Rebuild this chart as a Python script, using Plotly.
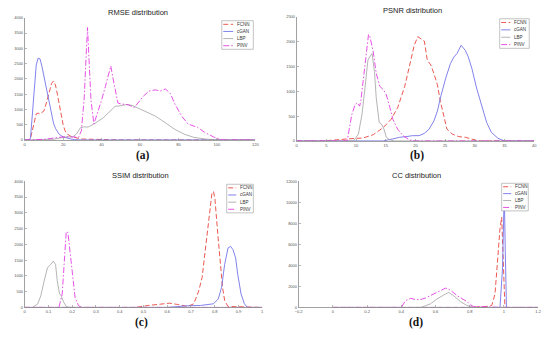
import plotly.graph_objects as go

W, H = 550, 338

# ---------------- data ----------------
methods = ["FCNN", "cGAN", "LBP", "PINV"]

# RMSE
rmse_fcnn_x = [0, 2, 3, 4, 5, 6, 7, 8, 9, 10, 11, 12, 13, 14, 15, 16, 17, 18, 19, 20, 21, 22, 24, 26, 28, 30, 35, 40, 50, 120]
rmse_fcnn_y = [0, 0, 50, 300, 600, 850, 880, 850, 900, 950, 1150, 1400, 1650, 1850, 1930, 1800, 1500, 1150, 800, 500, 300, 200, 120, 80, 50, 30, 20, 10, 0, 0]
rmse_cgan_x = [0, 2, 3, 4, 5, 6, 7, 8, 9, 10, 11, 12, 13, 14, 15, 16, 17, 18, 20, 22, 24, 26, 30, 120]
rmse_cgan_y = [0, 0, 50, 800, 1800, 2450, 2680, 2650, 2400, 2100, 1800, 1450, 1100, 800, 550, 380, 260, 180, 100, 60, 30, 10, 0, 0]
rmse_lbp_x = [0, 10, 15, 18, 20, 22, 25, 27, 29, 31, 33, 36, 41, 44, 47, 50, 53, 56, 58, 63, 68, 73, 78, 83, 88, 94, 100, 120]
rmse_lbp_y = [0, 0, 20, 60, 90, 100, 100, 200, 400, 430, 420, 520, 730, 900, 1100, 1120, 1160, 1130, 1070, 940, 780, 570, 350, 190, 85, 30, 0, 0]
rmse_pinv_x = [0, 5, 10, 15, 20, 25, 28, 29.5, 31, 32, 32.7, 33.5, 34.5, 36, 38, 40, 42, 44, 44.8, 46, 47.5, 48.5, 50, 52, 54, 57,
               59.6, 62, 64.7, 68, 70.6, 73.2, 75.7, 78.3, 81.7, 85, 90, 93.6, 98.7, 103, 120]
rmse_pinv_y = [0, 0, 20, 60, 100, 100, 80, 300, 1400, 2800, 3680, 2600, 1300, 520, 900, 1300, 1750, 2250, 2420, 2000, 1500, 1210, 1180, 1160, 1150, 1060,
               1270, 1450, 1600, 1640, 1600, 1670, 1530, 1160, 780, 520, 410, 250, 85, 0, 0]

# PSNR
psnr_fcnn_x = [0, 4.5, 8.5, 11.2, 12.9, 14.6, 15.9, 17, 18.2, 19, 19.8, 20.4, 20.9, 21.5, 22, 22.6, 23.1, 23.7, 24.2, 24.8, 25.3, 26.2, 27.3, 28.4, 29.5, 30.6, 40]
psnr_fcnn_y = [0, 0, 40, 60, 126, 271, 436, 668, 1098, 1528, 1925, 2100, 2057, 2010, 1627, 1528, 1362, 1131, 800, 470, 238, 139, 86, 73, 40, 0, 0]
psnr_cgan_x = [0, 14.6, 16.2, 17.3, 18.4, 19.5, 20.6, 21.5, 22.3, 23.1, 23.7, 24.2, 25.1, 25.9, 26.5, 27, 27.7, 28.4, 28.9, 29.5, 30.3, 31.2, 32, 32.8, 33.9, 35, 40]
psnr_cgan_y = [0, 0, 40, 73, 86, 106, 106, 152, 238, 400, 600, 866, 1263, 1560, 1693, 1760, 1925, 1825, 1693, 1462, 1065, 668, 370, 172, 53, 0, 0]
psnr_lbp_x = [0, 9.6, 10.4, 11, 11.5, 12, 12.3, 12.7, 13.1, 13.4, 13.9, 14.3, 14.7, 15.1, 15.7, 16.5, 40]
psnr_lbp_y = [0, 0, 140, 536, 1065, 1627, 1693, 1760, 1395, 866, 370, 337, 238, 73, 20, 0, 0]
psnr_pinv_x = [0, 8.5, 9.3, 9.85, 10.2, 10.6, 10.8, 11.5, 12.1, 12.3, 12.9, 13.4, 14, 14.6, 15.1, 15.7, 16.2, 17, 17.9, 19, 20, 40]
psnr_pinv_y = [0, 0, 536, 734, 767, 700, 800, 1460, 2143, 2120, 1790, 1360, 1100, 1030, 930, 670, 436, 238, 106, 20, 0, 0]

# SSIM
ssim_fcnn_x = [0, 0.466, 0.52, 0.575, 0.61, 0.644, 0.685, 0.712, 0.733, 0.747, 0.76, 0.774, 0.788, 0.795, 0.801, 0.811, 0.822, 0.833, 0.842, 0.856, 1]
ssim_fcnn_y = [0, 0, 62, 94, 135, 94, 30, 115, 531, 948, 1781, 2615, 3604, 3677, 3448, 2510, 1470, 635, 219, 30, 0]
ssim_cgan_x = [0, 0.6, 0.685, 0.74, 0.795, 0.815, 0.829, 0.842, 0.856, 0.867, 0.877, 0.888, 0.897, 0.911, 0.925, 0.938, 1]
ssim_cgan_y = [0, 0, 52, 62, 115, 270, 635, 1365, 1885, 1937, 1833, 1573, 1052, 427, 115, 0, 0]
ssim_lbp_x = [0, 0.034, 0.055, 0.068, 0.082, 0.096, 0.11, 0.12, 0.13, 0.137, 0.147, 0.153, 0.164, 0.175, 0.19, 1]
ssim_lbp_y = [0, 0, 115, 375, 844, 1260, 1365, 1470, 1365, 844, 427, 375, 167, 30, 0, 0]
ssim_pinv_x = [0, 0.144, 0.158, 0.167, 0.175, 0.182, 0.192, 0.203, 0.212, 0.226, 0.24, 1]
ssim_pinv_y = [0, 0, 427, 1677, 2406, 2375, 1677, 844, 323, 62, 0, 0]

# CC
cc_fcnn_x = [0, 0.8, 0.9, 0.929, 0.948, 0.962, 0.977, 0.987, 0.996, 1.006, 1.2]
cc_fcnn_y = [0, 0, 93, 186, 1275, 4380, 7490, 8580, 3760, 0, 0]
cc_cgan_x = [0, 0.977, 0.992, 1.002, 1.008, 1.015, 1.2]
cc_cgan_y = [0, 0, 3760, 11000, 5300, 0, 0]
cc_lbp_x = [0, 0.513, 0.571, 0.609, 0.648, 0.677, 0.706, 0.745, 0.784, 0.822, 1.2]
cc_lbp_y = [0, 0, 340, 808, 1180, 1430, 1120, 560, 186, 0, 0]
cc_pinv_x = [0, 0.4, 0.425, 0.455, 0.484, 0.513, 0.542, 0.571, 0.6, 0.629, 0.658, 0.677, 0.697, 0.726, 0.755, 0.784, 0.803, 0.822, 0.9, 1.0, 1.2]
cc_pinv_y = [0, 0, 650, 870, 746, 746, 900, 1120, 1337, 1585, 1834, 1740, 1523, 1120, 808, 560, 250, 93, 50, 0, 0]

titles = ["RMSE distribution", "PSNR distribution", "SSIM distribution", "CC distribution"]
captions = ["(a)", "(b)", "(c)", "(d)"]
x_ranges = [[0, 120], [0, 40], [0, 1], [-0.2, 1.2]]
x_dticks = [20, 5, 0.1, 0.2]
y_ranges = [[0, 4000], [0, 2500], [0, 4000], [0, 12000]]
y_dticks = [500, 500, 500, 2000]

series = [
    [(rmse_fcnn_x, rmse_fcnn_y), (rmse_cgan_x, rmse_cgan_y), (rmse_lbp_x, rmse_lbp_y), (rmse_pinv_x, rmse_pinv_y)],
    [(psnr_fcnn_x, psnr_fcnn_y), (psnr_cgan_x, psnr_cgan_y), (psnr_lbp_x, psnr_lbp_y), (psnr_pinv_x, psnr_pinv_y)],
    [(ssim_fcnn_x, ssim_fcnn_y), (ssim_cgan_x, ssim_cgan_y), (ssim_lbp_x, ssim_lbp_y), (ssim_pinv_x, ssim_pinv_y)],
    [(cc_fcnn_x, cc_fcnn_y), (cc_cgan_x, cc_cgan_y), (cc_lbp_x, cc_lbp_y), (cc_pinv_x, cc_pinv_y)],
]

# ---------------- styling ----------------
COLORS = {"FCNN": "#e8453c", "cGAN": "#7474ea", "LBP": "#9c9c9c", "PINV": "#e23ee2"}
DASHES = {"FCNN": "5px,2.5px", "cGAN": "solid", "LBP": "solid", "PINV": "6px,2px,1.5px,2px"}
WIDTHS = {"FCNN": 0.9, "cGAN": 0.9, "LBP": 0.75, "PINV": 0.9}

# plot areas in pixels: (left, right, top, bottom)
areas = [(21, 255, 15, 139), (297, 538, 14, 140), (21, 262, 181, 309), (299, 542, 181, 309)]
legend_boxes = [(221, 253, 18, 47), (503, 533, 16, 46), (226, 253, 184, 213), (505, 532, 183, 211)]
title_pos = [(136, 10), (415, 8), (139, 175), (419, 175)]
caption_pos = [(141, 155), (419, 155), (140, 324), (418, 324)]

def px(x):
    return x / W

def py(y):
    return 1 - y / H

fig = go.Figure()
layout = {}
shapes = []
annotations = []

for i in range(4):
    sfx = "" if i == 0 else str(i + 1)
    xa, ya = "x" + sfx, "y" + sfx
    l, r, t, b = areas[i]
    for m, (xs, ys) in zip(methods, series[i]):
        fig.add_trace(go.Scatter(
            x=xs, y=ys, mode="lines", name=m, showlegend=False,
            line=dict(color=COLORS[m], width=WIDTHS[m], dash=DASHES[m]),
            xaxis=xa, yaxis=ya))
    axis_common = dict(
        showline=True, linecolor="#8a8a8a", linewidth=0.8, showgrid=False, zeroline=False,
        ticks="inside", ticklen=2, tickwidth=0.6, tickcolor="#8a8a8a",
        tickfont=dict(family="Liberation Sans, Arial", size=4, color="#555555"),
        mirror=False,
    )
    layout["xaxis" + sfx] = dict(axis_common, domain=[px(l), px(r)], anchor=ya,
                                 range=x_ranges[i], dtick=x_dticks[i], tick0=x_ranges[i][0])
    layout["yaxis" + sfx] = dict(axis_common, domain=[py(b), py(t)], anchor=xa,
                                 range=y_ranges[i], dtick=y_dticks[i], tick0=0, tickformat="d")

    # title & caption
    tx, ty = title_pos[i]
    annotations.append(dict(text=titles[i], x=px(tx), y=py(ty), xref="paper", yref="paper",
                            showarrow=False, xanchor="center", yanchor="middle",
                            font=dict(family="Liberation Sans, Arial", size=7.5, color="#222222")))
    cx, cy = caption_pos[i]
    annotations.append(dict(text="<b>" + captions[i] + "</b>", x=px(cx), y=py(cy), xref="paper", yref="paper",
                            showarrow=False, xanchor="center", yanchor="middle",
                            font=dict(family="Liberation Serif, Times New Roman", size=11.5, color="#111111")))

    # legend box
    bl, br, bt, bb = legend_boxes[i]
    shapes.append(dict(type="rect", xref="paper", yref="paper",
                       x0=px(bl), x1=px(br), y0=py(bb), y1=py(bt),
                       line=dict(color="#9a9a9a", width=0.6), fillcolor="white", layer="above"))
    rowh = (bb - bt) / 4.0
    wbox = br - bl
    for k, m in enumerate(methods):
        yy = bt + rowh * (k + 0.5)
        shapes.append(dict(type="line", xref="paper", yref="paper",
                           x0=px(bl + 1.5), x1=px(bl + 0.36 * wbox), y0=py(yy), y1=py(yy),
                           line=dict(color=COLORS[m], width=WIDTHS[m], dash=DASHES[m]), layer="above"))
        annotations.append(dict(text=m, x=px(bl + 0.42 * wbox), y=py(yy), xref="paper", yref="paper",
                                showarrow=False, xanchor="left", yanchor="middle",
                                font=dict(family="Liberation Sans, Arial", size=4.5, color="#333333")))

fig.update_layout(
    width=W, height=H, margin=dict(l=0, r=0, t=0, b=0),
    paper_bgcolor="white", plot_bgcolor="white",
    showlegend=False, shapes=shapes, annotations=annotations, **layout)

fig.write_html("out.html", config={"displayModeBar": False, "staticPlot": True},
               post_script="document.body.style.margin='0px';document.body.style.overflow='hidden';")
